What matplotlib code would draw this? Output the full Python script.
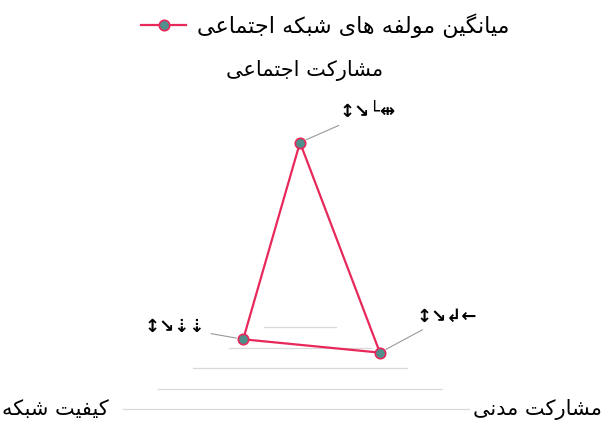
import matplotlib
matplotlib.use('Agg')
import matplotlib.pyplot as plt
import numpy as np
from matplotlib.lines import Line2D

# radar data (scale 0..1)
categories = ['مشارکت اجتماعی', 'مشارکت مدنی', 'کیفیت شبکه']
values = [0.80, 0.45, 0.32]
# data labels as they appear in the picture (broken-font glyphs)
value_labels = ['↕↘└⇹', '↕↘↲←', '↕↘⇣⇣']
series_name = 'میانگین مولفه های شبکه اجتماعی'
levels = [0.2, 0.4, 0.6, 0.8, 1.0]

# minimal arabic/persian shaping (no arabic_reshaper here)
FORMS = {
    'ا': ('\uFE8D', '\uFE8E', None, None),
    'ب': ('\uFE8F', '\uFE90', '\uFE91', '\uFE92'),
    'ت': ('\uFE95', '\uFE96', '\uFE97', '\uFE98'),
    'ج': ('\uFE9D', '\uFE9E', '\uFE9F', '\uFEA0'),
    'د': ('\uFEA9', '\uFEAA', None, None),
    'ر': ('\uFEAD', '\uFEAE', None, None),
    'ش': ('\uFEB5', '\uFEB6', '\uFEB7', '\uFEB8'),
    'ع': ('\uFEC9', '\uFECA', '\uFECB', '\uFECC'),
    'ف': ('\uFED1', '\uFED2', '\uFED3', '\uFED4'),
    'ل': ('\uFEDD', '\uFEDE', '\uFEDF', '\uFEE0'),
    'م': ('\uFEE1', '\uFEE2', '\uFEE3', '\uFEE4'),
    'ن': ('\uFEE5', '\uFEE6', '\uFEE7', '\uFEE8'),
    'ه': ('\uFEE9', '\uFEEA', '\uFEEB', '\uFEEC'),
    'و': ('\uFEED', '\uFEEE', None, None),
    'ک': ('\uFB8E', '\uFB8F', '\uFB90', '\uFB91'),
    'گ': ('\uFB92', '\uFB93', '\uFB94', '\uFB95'),
    'ی': ('\uFBFC', '\uFBFD', '\uFBFE', '\uFBFF'),
}


def shape(s):
    out = []
    for i, ch in enumerate(s):
        if ch not in FORMS:
            out.append(ch)
            continue
        prev = s[i - 1] if i > 0 else None
        nxt = s[i + 1] if i + 1 < len(s) else None
        iso, fin, ini, med = FORMS[ch]
        jp = prev in FORMS and FORMS[prev][2] is not None
        jn = nxt in FORMS and ini is not None
        if jp and jn:
            out.append(med)
        elif jp:
            out.append(fin)
        elif jn:
            out.append(ini)
        else:
            out.append(iso)
    return ''.join(reversed(out))


plt.rcParams['font.family'] = ['DejaVu Sans']

fig = plt.figure(figsize=(6.16, 4.21), dpi=100)
ax = fig.add_axes([95 / 616, (114.5 - 205) / 421, 410 / 616, 410 / 421],
                  projection='polar')
ax.set_theta_zero_location('N')
ax.set_theta_direction(-1)
ax.set_ylim(0, 1)
ax.set_xticks([])
ax.set_yticks([])
ax.grid(False)
ax.spines['polar'].set_visible(False)
ax.patch.set_alpha(0)

theta = np.linspace(0, 2 * np.pi, len(categories), endpoint=False)

# only the bottom edges of the grid triangles survive in the picture
for lv in levels:
    ax.plot(theta[1:3], [lv, lv], color='#d9d9d9', lw=0.9, zorder=1)

th = np.append(theta, theta[0])
vv = np.append(values, values[0])
color = '#e8285a'
ax.plot(th, vv, color=color, lw=1.6, zorder=3)
ax.plot(theta, values, 'o', ms=7.5, mfc='#4f8f8c', mec=color, mew=1.2, zorder=4)

# data labels with leader lines
label_offsets = [(68, 30), (67, 36), (-68, 12)]
for t, v, lab, off in zip(theta, values, value_labels, label_offsets):
    ax.annotate(lab, xy=(t, v), xytext=off, textcoords='offset pixels',
                ha='center', va='center', fontsize=13, fontweight='bold',
                arrowprops=dict(arrowstyle='-', color='#999999', lw=0.8,
                                shrinkA=2, shrinkB=5))

# category labels
cat_offsets = [(5, 31), (60, 0), (-67, 0)]
for t, c, off in zip(theta, categories, cat_offsets):
    ax.annotate(shape(c), xy=(t, 1.0), xytext=off, textcoords='offset pixels',
                ha='center', va='center', fontsize=15, annotation_clip=False,
                bbox=dict(fc='white', ec='none', pad=2))

handle = Line2D([], [], color=color, lw=1.6, marker='o', ms=7.5,
                mfc='#4f8f8c', mec=color, mew=1.2)
fig.legend([handle], [shape(series_name)], loc='center',
           bbox_to_anchor=(0.528, 0.94), frameon=False, fontsize=16,
           handlelength=2.0, handletextpad=0.5)

fig.savefig('out.png', dpi=100)
plt.close(fig)
